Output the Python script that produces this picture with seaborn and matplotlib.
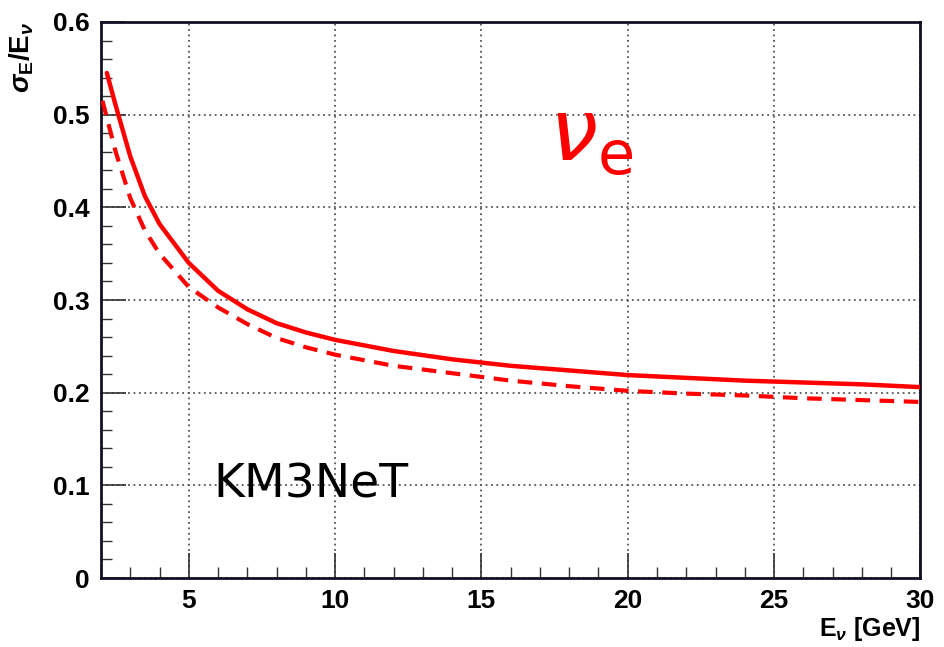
import numpy as np
import pandas as pd
import matplotlib
matplotlib.use("Agg")
import matplotlib.pyplot as plt
from matplotlib.ticker import MultipleLocator
import seaborn as sns

# solid curve
energy_solid = [2.2, 2.5, 3, 3.5, 4, 5, 6, 7, 8, 9, 10, 12, 14, 16, 18, 20, 22, 24, 26, 28, 30]
res_solid = [0.545, 0.51, 0.455, 0.412, 0.382, 0.34, 0.31, 0.29, 0.275, 0.265, 0.257,
             0.245, 0.236, 0.229, 0.224, 0.219, 0.216, 0.213, 0.211, 0.209, 0.206]

# dashed curve
energy_dash = [2.05, 2.5, 3, 3.5, 4, 5, 6, 7, 8, 9, 10, 12, 14, 16, 18, 20, 22, 24, 26, 28, 30]
res_dash = [0.515, 0.46, 0.41, 0.375, 0.35, 0.314, 0.292, 0.274, 0.259, 0.249, 0.241,
            0.229, 0.221, 0.213, 0.207, 0.202, 0.199, 0.197, 0.194, 0.192, 0.19]

xticks = [5, 10, 15, 20, 25, 30]
yticks = [0, 0.1, 0.2, 0.3, 0.4, 0.5, 0.6]
ytick_labels = ["0", "0.1", "0.2", "0.3", "0.4", "0.5", "0.6"]

sns.set_style("white")
plt.rcParams["font.family"] = ["Liberation Sans", "DejaVu Sans"]
plt.rcParams["mathtext.fontset"] = "custom"
plt.rcParams["mathtext.rm"] = "Liberation Sans:bold"
plt.rcParams["mathtext.it"] = "Liberation Sans:italic:bold"
plt.rcParams["mathtext.bf"] = "Liberation Sans:bold"

fig = plt.figure(figsize=(9.44, 6.47), dpi=100)
ax = fig.add_axes([0.107, 0.1066, 0.868, 0.8594])

df_s = pd.DataFrame({"E": energy_solid, "res": res_solid})
df_d = pd.DataFrame({"E": energy_dash, "res": res_dash})
sns.lineplot(data=df_s, x="E", y="res", ax=ax, color="#ff0000", lw=3.2, zorder=3)
sns.lineplot(data=df_d, x="E", y="res", ax=ax, color="#ff0000", lw=3.0, zorder=3,
             dashes=False, linestyle=(0, (3.5, 2.3)))

ax.set_xlim(2, 30)
ax.set_ylim(0, 0.6)
ax.set_xticks(xticks)
ax.set_yticks(yticks)
ax.set_yticklabels(ytick_labels)
ax.xaxis.set_minor_locator(MultipleLocator(1))
ax.yaxis.set_minor_locator(MultipleLocator(0.02))

ax.tick_params(which="both", bottom=True, left=True, top=False, right=False)
ax.tick_params(which="major", direction="in", length=18, width=1.2, color="#333333",
               labelsize=19, pad=8, labelcolor="black")
ax.tick_params(which="minor", direction="in", length=8, width=1.0, color="#333333")
for lab in ax.get_xticklabels() + ax.get_yticklabels():
    lab.set_fontweight("bold")

ax.grid(True, which="major", color="#555555", linestyle=(0, (1, 2)), lw=1.3)
for s in ax.spines.values():
    s.set_color("#111122")
    s.set_linewidth(2)

ax.set_xlabel(r"E$_{\nu}$ [GeV]", fontsize=18, fontweight="bold", loc="right",
              labelpad=1, color="black")
ax.set_ylabel(r"$\sigma_{\mathrm{E}}$/E$_{\nu}$", fontsize=20, fontweight="bold", loc="top",
              labelpad=12, color="black")

ax.text(17.3, 0.45, r"$\nu_{\mathrm{e}}$", color="#ff0000", fontsize=62,
        math_fontfamily="dejavusans")
ax.text(5.85, 0.087, "KM3NeT", color="black", fontsize=34, family="DejaVu Sans")

fig.savefig("out.png", dpi=100)
